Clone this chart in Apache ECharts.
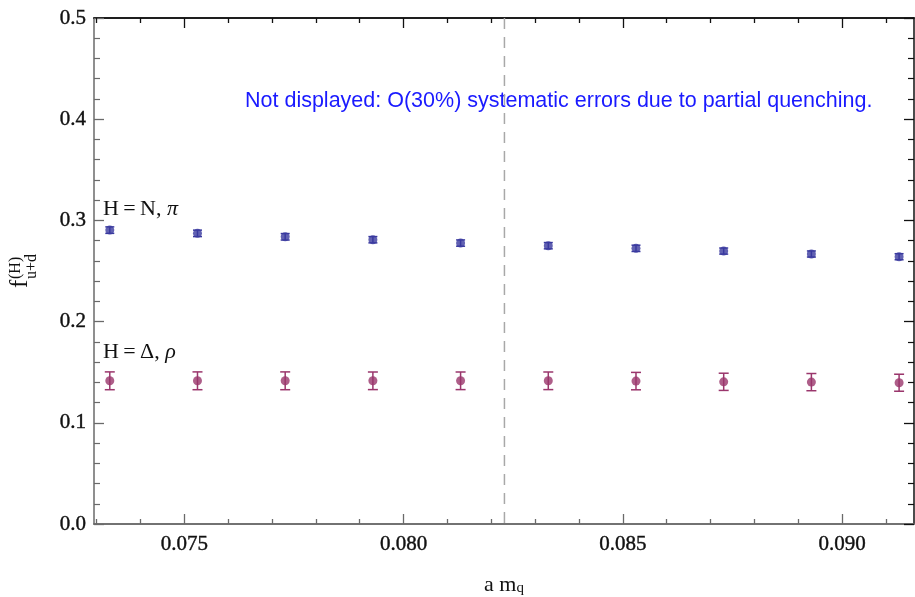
<!DOCTYPE html>
<html>
<head>
<meta charset="utf-8">
<script src="https://cdn.jsdelivr.net/npm/echarts@6/dist/echarts.min.js"></script>
<style>
  html, body { margin: 0; padding: 0; background: #fff; }
  #chart { width: 915px; height: 597px; }
</style>
</head>
<body>
<div id="chart"></div>
<script>
// Quark mass values (lattice units)
const amq = [0.0733, 0.0753, 0.0773, 0.0793, 0.0813, 0.0833, 0.0853, 0.0873, 0.0893, 0.0913];
// f_{u+d} for H = N, pi
const fNpi = [0.2904, 0.2872, 0.2838, 0.2809, 0.2776, 0.2750, 0.2724, 0.2697, 0.2668, 0.2641];
const errNpi = [0.0032, 0.0032, 0.0032, 0.0031, 0.0031, 0.0031, 0.0031, 0.0030, 0.0030, 0.0030];
// f_{u+d} for H = Delta, rho
const fDrho = [0.1415, 0.1415, 0.1415, 0.1415, 0.1415, 0.1415, 0.1412, 0.1405, 0.1402, 0.1396];
const errDrho = [0.0088, 0.0088, 0.0088, 0.0087, 0.0087, 0.0087, 0.0086, 0.0085, 0.0085, 0.0084];
// Vertical reference line
const refLine = [0.0823];
// Axis ticks
const xMajorTicks = [0.075, 0.080, 0.085, 0.090];
const xMinorTicks = [0.073, 0.074, 0.076, 0.077, 0.078, 0.079, 0.081, 0.082, 0.083, 0.084,
                     0.086, 0.087, 0.088, 0.089, 0.091];
const xRange = [0.07294, 0.09164];
const yRange = [0, 0.5];

const serif = 'Liberation Serif';
const ink = '#111';
const blue = '#3a3a9f';
const purple = '#9a366c';

const chart = echarts.init(document.getElementById('chart'));

function errorBars(xs, ys, es, color, cap) {
  return {
    type: 'custom',
    xAxisIndex: 0, yAxisIndex: 0,
    data: xs.map((x, i) => [x, ys[i] - es[i], ys[i] + es[i]]),
    renderItem: function (params, api) {
      const lo = api.coord([api.value(0), api.value(1)]);
      const hi = api.coord([api.value(0), api.value(2)]);
      const st = { stroke: color, lineWidth: 1.5 };
      return {
        type: 'group',
        children: [
          { type: 'line', shape: { x1: lo[0], y1: lo[1], x2: hi[0], y2: hi[1] }, style: st },
          { type: 'line', shape: { x1: lo[0] - cap, y1: lo[1], x2: lo[0] + cap, y2: lo[1] }, style: st },
          { type: 'line', shape: { x1: hi[0] - cap, y1: hi[1], x2: hi[0] + cap, y2: hi[1] }, style: st }
        ]
      };
    },
    z: 3
  };
}

// dashed vertical guide spanning the full plot height
const guideSeries = {
  type: 'custom',
  xAxisIndex: 0, yAxisIndex: 0,
  data: refLine.map(x => [x]),
  renderItem: function (params, api) {
    const top = api.coord([api.value(0), yRange[1]]);
    const bot = api.coord([api.value(0), yRange[0]]);
    return {
      type: 'line',
      shape: { x1: top[0], y1: top[1], x2: bot[0], y2: bot[1] },
      style: { stroke: '#a8a8a8', lineWidth: 1.5, lineDash: [11, 8] }
    };
  },
  z: 2
};

const frameDark = '#111';
const frameGray = '#6a6a6a';

const labelText = {
  color: ink, fontFamily: serif, fontSize: 21,
  textBorderColor: ink, textBorderWidth: 0.4
};

function xAxisDef(pos, color, ticks, len, showLabel) {
  return {
    type: 'value', position: pos, min: xRange[0], max: xRange[1],
    axisLine: { show: true, onZero: false, lineStyle: { color: color, width: 1.5 } },
    axisTick: { show: true, inside: true, length: len, customValues: ticks, lineStyle: { color: color, width: 1.3 } },
    axisLabel: showLabel ? Object.assign({
      show: true, customValues: ticks, margin: 10, formatter: v => v.toFixed(3)
    }, labelText) : { show: false },
    splitLine: { show: false }
  };
}

function yAxisDef(pos, color, showLabel) {
  return {
    type: 'value', position: pos, min: yRange[0], max: yRange[1], interval: 0.1,
    axisLine: { show: true, onZero: false, lineStyle: { color: color, width: 1.5 } },
    axisTick: { show: true, inside: true, length: 10, lineStyle: { color: color, width: 1.3 } },
    minorTick: { show: true, splitNumber: 5, length: 6, lineStyle: { color: color, width: 1.2 } },
    axisLabel: showLabel ? Object.assign({
      show: true, margin: 8, formatter: v => v.toFixed(1)
    }, labelText) : { show: false },
    splitLine: { show: false }
  };
}

const richSerif = {
  n: { fontFamily: serif, fontSize: 22, fill: ink, textStroke: ink, textStrokeWidth: 0.4 },
  i: { fontFamily: serif, fontSize: 22, fontStyle: 'italic', fill: ink }
};

const option = {
  backgroundColor: '#fff',
  animation: false,
  grid: { left: 94, right: 1, top: 18, bottom: 73 },
  xAxis: [
    xAxisDef('bottom', frameGray, xMajorTicks, 10, true),
    xAxisDef('bottom', frameGray, xMinorTicks, 5, false),
    xAxisDef('top', frameDark, xMajorTicks, 10, false),
    xAxisDef('top', frameDark, xMinorTicks, 5, false)
  ],
  yAxis: [
    yAxisDef('left', frameGray, true),
    yAxisDef('right', frameDark, false)
  ],
  series: [
    guideSeries,
    errorBars(amq, fNpi, errNpi, blue, 4.5),
    errorBars(amq, fDrho, errDrho, purple, 5),
    {
      type: 'scatter', xAxisIndex: 0, yAxisIndex: 0,
      data: amq.map((x, i) => [x, fNpi[i]]),
      symbol: 'circle', symbolSize: 9,
      itemStyle: { color: blue }, z: 4
    },
    {
      type: 'scatter', xAxisIndex: 0, yAxisIndex: 0,
      data: amq.map((x, i) => [x, fDrho[i]]),
      symbol: 'circle', symbolSize: 9,
      itemStyle: { color: purple }, z: 4
    }
  ],
  graphic: [
    {
      type: 'text', left: 245, top: 90,
      style: {
        text: 'Not displayed: O(30%) systematic errors due to partial quenching.',
        font: 'normal 21.5px "Liberation Sans"', fill: '#1a1aff'
      }
    },
    {
      type: 'text', x: 103, y: 209,
      style: { text: '{n|H\u2009=\u2009N, }{i|π}', verticalAlign: 'middle', rich: richSerif }
    },
    {
      type: 'text', x: 103, y: 352,
      style: { text: '{n|H\u2009=\u2009Δ, }{i|ρ}', verticalAlign: 'middle', rich: richSerif }
    },
    {
      type: 'text', x: 504, y: 585,
      style: {
        text: '{n|a m}{s|q}',
        align: 'center', verticalAlign: 'middle',
        rich: {
          n: { fontFamily: serif, fontSize: 22, fill: ink, lineHeight: 22 },
          s: { fontFamily: serif, fontSize: 15, fill: ink, lineHeight: 8, verticalAlign: 'bottom' }
        }
      }
    },
    {
      type: 'group', x: 33, y: 271, rotation: Math.PI / 2,
      children: [
        { type: 'text', x: -17, y: 0, style: { text: 'f', font: 'normal 25px "Liberation Serif"', fill: ink, verticalAlign: 'bottom' } },
        { type: 'text', x: -8, y: -9, style: { text: '(H)', font: 'normal 16px "Liberation Serif"', fill: ink, verticalAlign: 'bottom' } },
        { type: 'text', x: -8, y: 7, style: { text: 'u+d', font: 'normal 16px "Liberation Serif"', fill: ink, verticalAlign: 'bottom' } }
      ]
    }
  ]
};

chart.setOption(option);
</script>
</body>
</html>
